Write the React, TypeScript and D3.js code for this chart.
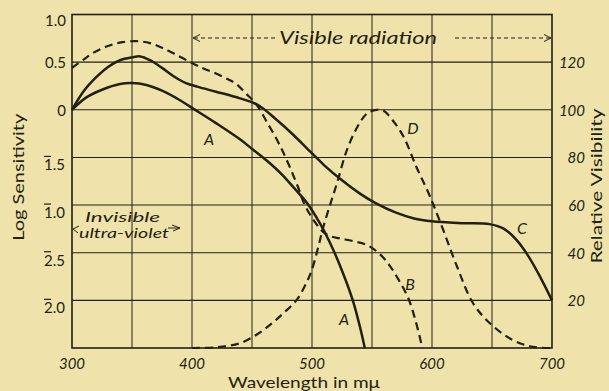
import * as d3 from 'd3'

// curve A: lower solid, log sensitivity
const aWave = [300, 312, 325, 340, 350, 362, 375, 390, 400, 420, 440, 451, 462, 475, 485, 496, 507, 517, 526, 534, 540, 544]
const aLog = [0, 0.13, 0.21, 0.27, 0.28, 0.26, 0.2, 0.1, 0.02, -0.14, -0.31, -0.42, -0.53, -0.68, -0.82, -0.98, -1.2, -1.45, -1.72, -2.0, -2.28, -2.5]

// curve B: upper dashed, log sensitivity
const bWave = [300, 310, 318, 330, 342, 354, 365, 375, 385, 400, 410, 420, 430, 437, 445, 454, 462, 471, 478, 488, 494, 502, 509, 516, 523, 535, 546, 557, 565, 572, 580, 586, 592]
const bLog = [0.44, 0.53, 0.6, 0.67, 0.71, 0.72, 0.7, 0.65, 0.59, 0.49, 0.43, 0.38, 0.32, 0.27, 0.17, 0.05, -0.12, -0.32, -0.5, -0.8, -1.0, -1.17, -1.28, -1.33, -1.35, -1.38, -1.42, -1.52, -1.64, -1.78, -1.97, -2.2, -2.5]

// curve C: upper solid, log sensitivity
const cWave = [300, 310, 320, 330, 340, 350, 357, 365, 375, 385, 395, 405, 420, 440, 455, 470, 485, 497, 510, 525, 540, 553, 570, 585, 600, 625, 648, 660, 670, 680, 690, 700]
const cLog = [0, 0.2, 0.34, 0.45, 0.52, 0.55, 0.56, 0.52, 0.44, 0.35, 0.28, 0.24, 0.19, 0.12, 0.05, -0.1, -0.27, -0.42, -0.58, -0.74, -0.88, -0.98, -1.08, -1.14, -1.17, -1.19, -1.2, -1.25, -1.36, -1.53, -1.75, -2.0]

// curve D: dashed bell, relative visibility
const dWave = [400, 420, 440, 455, 467, 477, 487, 495, 500, 505, 509, 515, 521, 529, 538, 546, 554, 560, 565, 576, 587, 598, 609, 621, 634, 648, 667, 684, 700]
const dVis = [0, 0.3, 2, 6, 10.5, 15, 20, 27, 33, 42, 50, 60, 69.5, 83, 93, 98.5, 100, 99.5, 97, 89, 76, 64, 50, 34, 19, 10.5, 3.4, 0.5, 0]

const xTicks = [300, 400, 500, 600, 700]
const xGrid = [350, 400, 450, 500, 550, 600, 650]
const logTicks = [1.0, 0.5, 0, -0.5, -1.0, -1.5, -2.0]
const logLabels = ['1.0', '0.5', '0', '1.5', '1.0', '2.5', '2.0']
const logBarred = [false, false, false, true, true, true, true]
const visTicks = [20, 40, 60, 80, 100, 120]

const W = 609
const H = 391
const BG = '#efe3ab'
const INK = '#231f12'
const FONT = 'Lato, "Open Sans", sans-serif'

export default function App() {
  const x = d3.scaleLinear().domain([300, 700]).range([72, 552])
  const yLog = d3.scaleLinear().domain([-2.5, 1.0]).range([348, 14.5])
  const yVis = d3.scaleLinear().domain([0, 140]).range([348, 14.5])

  const logLine = d3
    .line<[number, number]>()
    .x((d) => x(d[0]))
    .y((d) => yLog(d[1]))
    .curve(d3.curveCatmullRom.alpha(0.5))
  const visLine = d3
    .line<[number, number]>()
    .x((d) => x(d[0]))
    .y((d) => yVis(d[1]))
    .curve(d3.curveCatmullRom.alpha(0.5))

  const zip = (a: number[], b: number[]) => a.map((v, i) => [v, b[i]] as [number, number])

  const [x0, x1] = x.range()
  const yTop = yLog(1.0)
  const yBot = yLog(-2.5)
  const visY = 38

  return (
    <svg width={W} height={H} style={{ position: 'absolute', left: 0, top: 0, background: BG }} fontFamily={FONT}>
      <rect width={W} height={H} fill={BG} />

      {/* grid */}
      {logTicks.map((t) => (
        <line key={'h' + t} x1={x0} x2={x1} y1={yLog(t)} y2={yLog(t)} stroke={INK} strokeWidth={1.1} />
      ))}
      {xGrid.map((t) => (
        <line key={'v' + t} x1={x(t)} x2={x(t)} y1={yTop} y2={yBot} stroke={INK} strokeWidth={1} />
      ))}
      <rect x={x0} y={yTop} width={x1 - x0} height={yBot - yTop} fill="none" stroke={INK} strokeWidth={1.6} />

      {/* curves */}
      <path d={logLine(zip(bWave, bLog)) || ''} fill="none" stroke={INK} strokeWidth={2.2} strokeDasharray="8 5" />
      <path d={visLine(zip(dWave, dVis)) || ''} fill="none" stroke={INK} strokeWidth={2.2} strokeDasharray="8 5" />
      <path d={logLine(zip(cWave, cLog)) || ''} fill="none" stroke={INK} strokeWidth={2.5} />
      <path d={logLine(zip(aWave, aLog)) || ''} fill="none" stroke={INK} strokeWidth={2.5} />

      {/* curve letters */}
      <g fontStyle="italic" fontSize={16} fill={INK} textAnchor="middle">
        <text x={209} y={145}>A</text>
        <text x={344} y={325}>A</text>
        <text x={410} y={290}>B</text>
        <text x={522} y={234}>C</text>
        <text x={413} y={134}>D</text>
      </g>

      {/* visible radiation */}
      <g stroke={INK} strokeWidth={1} fill="none">
        <line x1={x(400) + 2} x2={275} y1={visY} y2={visY} strokeDasharray="4 3" />
        <line x1={455} x2={x(700) - 2} y1={visY} y2={visY} strokeDasharray="4 3" />
        <path d={`M${x(400) + 8},${visY - 3.5} L${x(400) + 1},${visY} L${x(400) + 8},${visY + 3.5}`} />
        <path d={`M${x(700) - 8},${visY - 3.5} L${x(700) - 1},${visY} L${x(700) - 8},${visY + 3.5}`} />
      </g>
      <text x={279} y={visY + 6} fontStyle="italic" fontSize={17} fill={INK} textLength={158} lengthAdjust="spacingAndGlyphs">
        Visible radiation
      </text>

      {/* invisible ultra-violet */}
      <g fontStyle="italic" fontSize={13} fill={INK}>
        <text x={85} y={222} textLength={75} lengthAdjust="spacingAndGlyphs">Invisible</text>
        <text x={79} y={238} textLength={90} lengthAdjust="spacingAndGlyphs">ultra-violet</text>
      </g>
      <g stroke={INK} strokeWidth={1} fill="none">
        <path d={`M${x0 + 7},${226} L${x0 + 1},${229} L${x0 + 6},${233}`} />
        <path d={`M${x0 + 100},${225} L${x0 + 108},${228} L${x0 + 101},${231}`} />
        <line x1={x0 + 96} x2={x0 + 108} y1={228} y2={228} />
      </g>

      {/* left axis */}
      <g fontSize={15} fill={INK}>
        {logTicks.map((t, i) => {
          const y = yLog(t)
          if (logBarred[i]) {
            return (
              <g key={'l' + t}>
                <text x={44} y={y + 13}>{logLabels[i]}</text>
                <line x1={44} x2={51} y1={y - 1} y2={y - 1} stroke={INK} strokeWidth={1.2} />
              </g>
            )
          }
          return (
            <text key={'l' + t} x={66} y={y + (i === 0 ? 11 : 6)} textAnchor="end">
              {logLabels[i]}
            </text>
          )
        })}
      </g>
      <text
        transform={`translate(24,${(yTop + yBot) / 2 - 4}) rotate(-90)`}
        textAnchor="middle"
        fontSize={16}
        fill={INK}
        textLength={127}
        lengthAdjust="spacingAndGlyphs"
      >
        Log Sensitivity
      </text>

      {/* right axis */}
      <g fontSize={15} fill={INK} fontStyle="italic" textAnchor="end">
        {visTicks.map((t) => (
          <text key={'r' + t} x={585} y={yVis(t) + 6}>
            {t}
          </text>
        ))}
      </g>
      <text
        transform={`translate(602,186) rotate(-90)`}
        textAnchor="middle"
        fontSize={16}
        fill={INK}
        textLength={155}
        lengthAdjust="spacingAndGlyphs"
      >
        Relative Visibility
      </text>

      {/* bottom axis */}
      <g fontSize={15} fill={INK} fontStyle="italic" textAnchor="middle">
        {xTicks.map((t) => (
          <text key={'b' + t} x={x(t)} y={369}>
            {t}
          </text>
        ))}
      </g>
      <text x={304} y={388} textAnchor="middle" fontSize={15} fill={INK} textLength={152} lengthAdjust="spacingAndGlyphs">
        Wavelength in mμ
      </text>
    </svg>
  )
}
